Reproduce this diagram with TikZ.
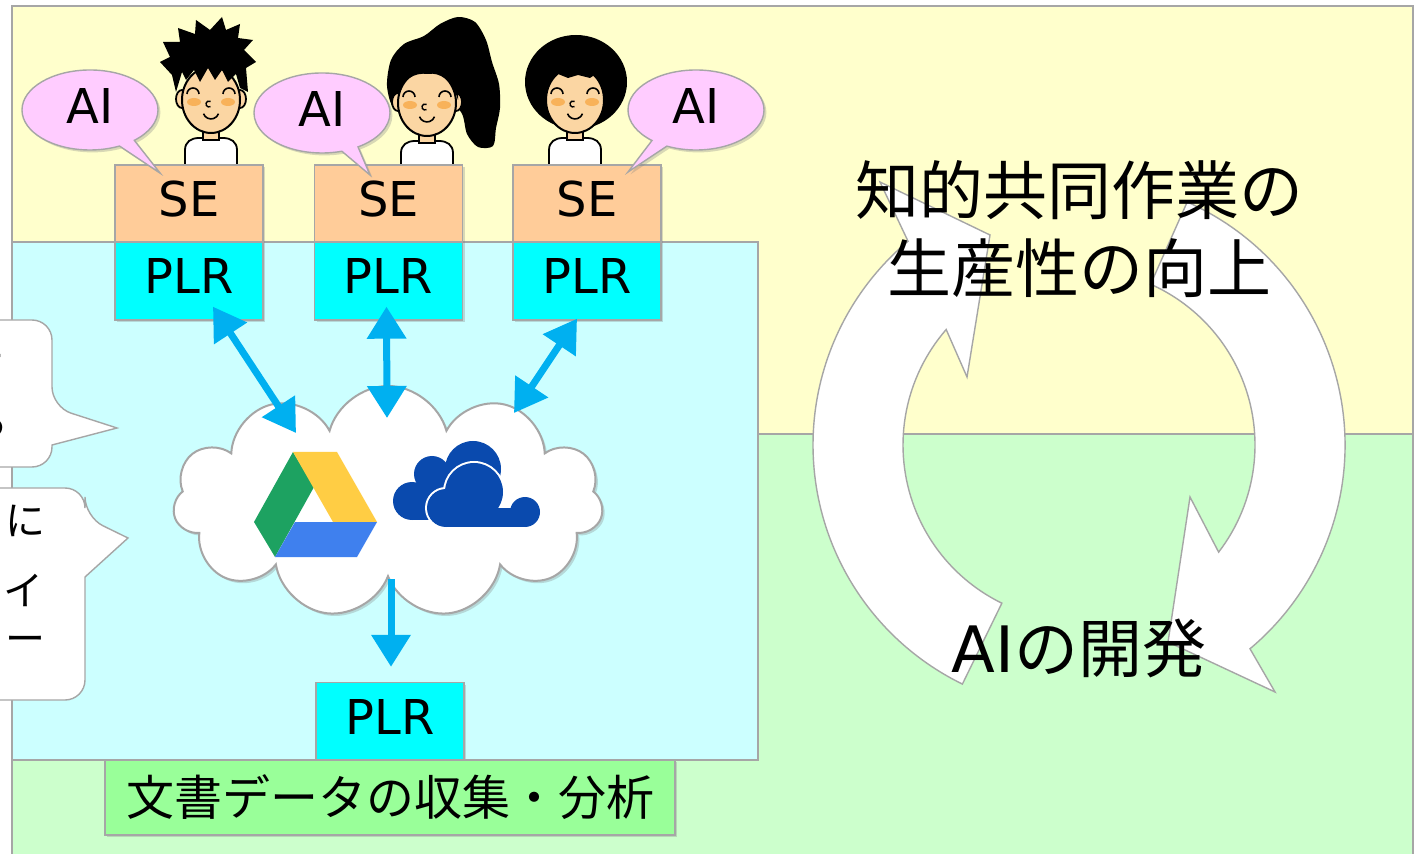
\documentclass[tikz,border=0pt]{standalone}
\usepackage{fontspec}
\setmainfont{DejaVu Sans}
\newfontfamily\jp{Noto Sans CJK JP}
\usetikzlibrary{arrows.meta,calc,shapes.symbols,shapes.callouts,shadows}

\definecolor{edgegray}{HTML}{A6A6A6}
\definecolor{bgyellow}{HTML}{FFFFCC}
\definecolor{bggreen}{HTML}{CCFFCC}
\definecolor{bgcyan}{HTML}{CCFFFF}
\definecolor{seorange}{HTML}{FFCC99}
\definecolor{plrcyan}{HTML}{00FFFF}
\definecolor{taskgreen}{HTML}{99FF99}
\definecolor{bubblepink}{HTML}{FFCCFF}
\definecolor{arrowblue}{HTML}{00B0F0}
\definecolor{skin}{HTML}{FBD6A3}
\definecolor{blush}{HTML}{F8B25A}
\definecolor{gdgreen}{HTML}{1DA261}
\definecolor{gdyellow}{HTML}{FFCD44}
\definecolor{gdblue}{HTML}{3F80EE}
\definecolor{odblue}{HTML}{0A4AAE}

\tikzset{
  softshadow/.style={drop shadow={shadow xshift=1.2pt,shadow yshift=-1.2pt,opacity=0.3}},
  labelbox/.style={draw=edgegray, line width=0.7pt, inner sep=0pt, text depth=5pt,
    font=\fontsize{24pt}{28pt}\selectfont, softshadow},
  sebox/.style={labelbox, fill=seorange, minimum width=74pt, minimum height=38.5pt},
  plrbox/.style={labelbox, fill=plrcyan, minimum width=74pt, minimum height=39pt},
  taskbox/.style={draw=edgegray, line width=0.7pt, fill=taskgreen, minimum width=285pt,
    minimum height=37.5pt, font=\jp\fontsize{24pt}{28pt}\selectfont, softshadow},
  aibubble/.style={ellipse callout, draw=edgegray, line width=0.7pt, fill=bubblepink,
    inner sep=0pt, text depth=4pt, minimum width=68pt, minimum height=40pt,
    font=\fontsize{24pt}{28pt}\selectfont, softshadow},
  syncarrow/.style={draw=arrowblue, line width=3.5pt,
    {Triangle[width=19pt,length=16pt]}-{Triangle[width=19pt,length=16pt]}},
  pullarrow/.style={draw=arrowblue, line width=3.5pt, -{Triangle[width=19pt,length=16pt]}},
  cyclearrow/.style={fill=white, draw=edgegray, line width=0.7pt},
  callbox/.style={fill=white, draw=edgegray, line width=0.7pt},
  hinttext/.style={anchor=east, inner sep=0pt, font=\jp\fontsize{20pt}{24pt}\selectfont},
  % face, neck and shirt around the face centre
  kao/.pic={
    \filldraw[fill=white, line width=0.9pt] (-26,72) -- (-26,50) .. controls (-26,42) and (-20,38) .. (-12,38)
      -- (12,38) .. controls (20,38) and (26,42) .. (26,50) -- (26,72);
    \filldraw[fill=skin, line width=0.9pt] (-8,26) rectangle (8,40);
    \filldraw[fill=skin, line width=1pt] (0,0) ellipse [x radius=29, y radius=33];
    \fill[blush] (-17,2) ellipse [x radius=7, y radius=4] (17,2) ellipse [x radius=7, y radius=4];
    \draw[line width=0.8pt] (-24,-6) arc[start angle=180, end angle=360, radius=6]
      (12,-6) arc[start angle=180, end angle=360, radius=6];
    \draw[line width=0.7pt] (-0.5,6.6) arc[start angle=60, end angle=300, radius=3];
    \draw[line width=0.8pt] (-7.5,13.7) arc[start angle=160, end angle=20, radius=8];
  },
  mimi/.pic={
    \filldraw[fill=skin, line width=0.9pt] (-29,-1) ellipse [x radius=6, y radius=9]
      (29,-1) ellipse [x radius=6, y radius=9];
  }
}

\begin{document}
\begin{tikzpicture}[x=0.5pt,y=0.5pt,yscale=-1]
\useasboundingbox (0,0) rectangle (1416,854);

% background areas
\filldraw[fill=bgyellow, draw=edgegray, line width=0.7pt] (12,6) rectangle (1413,434);
\filldraw[fill=bggreen, draw=edgegray, line width=0.7pt] (12,434) rectangle (1413,860);
\filldraw[fill=bgcyan, draw=edgegray, line width=0.7pt] (12,242) rectangle (758,760);

% people
\pic[transform shape] at (211,100) {mimi};
\pic[transform shape] at (211,100) {kao};
\fill (176,92) -- (172,75) -- (160,62) -- (170,57) -- (163,42) -- (180,42) -- (178,28) -- (195,34)
  -- (196,20) -- (210,30) -- (222,17) -- (226,30) -- (240,24) -- (238,38) -- (253,40) -- (244,50)
  -- (256,62) -- (246,68) -- (248,92) -- (240,88) -- (236,74) -- (228,82) -- (222,70) -- (215,80)
  -- (208,68) -- (200,82) -- (194,70) -- (186,80) -- (182,72) -- cycle;

\fill plot[smooth cycle] coordinates {(394,108) (387,86) (391,60) (404,44) (424,36) (440,24) (458,17)
  (475,22) (486,40) (492,62) (499,84) (500,108) (496,128) (493,146) (478,147) (467,134) (461,112)
  (440,96) (412,100)};
\pic[transform shape] at (427,103) {mimi};
\pic[transform shape] at (427,103) {kao};
\fill (398,96) .. controls (398,70) and (415,62) .. (428,68) .. controls (445,62) and (460,72) .. (458,100)
  .. controls (452,80) and (440,72) .. (428,74) .. controls (414,72) and (402,80) .. (398,96) -- cycle;

\fill (576,82) ellipse [x radius=51, y radius=47];
\pic[transform shape] at (575,100) {kao};
\fill (538,98) -- (542,77) -- (553,79) -- (558,74) -- (568,78) -- (578,75) -- (590,78) -- (596,74)
  -- (608,77) -- (612,98) -- (616,60) -- (576,48) -- (536,60) -- cycle;

% cycle of the two big arrows
\coordinate (ctr) at (1079,445);
\draw[cyclearrow] ($(ctr)+(116:266)$) arc[start angle=116, end angle=230, radius=266]
  -- (880,182) -- (990,235) -- (967,377) -- ($(ctr)+(221:176)$)
  arc[start angle=221, end angle=116, radius=176] -- cycle;
\draw[cyclearrow] ($(ctr)+(294:266)$) arc[start angle=294, end angle=410, radius=266]
  -- (1275,692) -- (1168,642) -- (1190,497) -- ($(ctr)+(37.5:176)$)
  arc[start angle=37.5, end angle=-66, radius=176] -- cycle;
\node[align=center, font=\jp\fontsize{32pt}{39pt}\selectfont] (goal) at (1079,229)
  {知的共同作業の\\生産性の向上};
\node[font=\fontsize{32pt}{39pt}\selectfont] (dev) at (1079,648) {AI{\jp の開発}};

% side notes
\draw[callbox] (-40,320) [rounded corners=10pt] -- (52,320) -- (52,407) [sharp corners]
  -- (117,428) -- (52,445) [rounded corners=10pt] -- (52,467) -- (-40,467);
\node[hinttext] (hint1a) at (6,370) {て};
\node[hinttext] (hint1b) at (9,422) {る};
\draw[callbox] (-40,488) [rounded corners=10pt] -- (85,488) -- (85,517) [sharp corners]
  -- (128,538) -- (85,577) [rounded corners=10pt] -- (85,700) -- (-40,700);
\node[hinttext] (hint2a) at (46,521) {に};
\node[hinttext] (hint2b) at (44,590) {イ};
\node[hinttext] (hint2c) at (46,645) {ー};

% SE and PLR
\node[sebox] (se1) at (189,203.5) {SE};
\node[sebox] (se2) at (388.5,203.5) {SE};
\node[sebox] (se3) at (587,203.5) {SE};
\node[plrbox] (plr1) at (189,281) {PLR};
\node[plrbox] (plr2) at (388.5,281) {PLR};
\node[plrbox] (plr3) at (587,281) {PLR};
\node[plrbox] (plr4) at (390,721.5) {PLR};
\node[taskbox] (task) at (390,797.5) {文書データの収集・分析};

\node[aibubble, callout absolute pointer={(160,173)}] (ai1) at (90,110) {AI};
\node[aibubble, callout absolute pointer={(370,175)}] (ai2) at (322,113) {AI};
\node[aibubble, callout absolute pointer={(628,172)}] (ai3) at (696,110) {AI};

% storage cloud
\node[cloud, cloud puffs=11, cloud ignores aspect, draw=edgegray, line width=1pt, fill=white,
  minimum width=215pt, minimum height=116pt, softshadow] (kumo) at (388,502) {};

% drive logo
\fill[gdgreen] (293,452) -- (254,522) -- (275,557) -- (314,487) -- cycle;
\fill[gdyellow] (293,452) -- (337,452) -- (377,522) -- (333,522) -- cycle;
\fill[gdblue] (295,522) -- (377,522) -- (357,557) -- (275,557) -- cycle;

% onedrive logo
\fill[odblue] (473,469) circle[radius=28];
\fill[odblue] (432,474) circle[radius=18];
\fill[odblue] (412,501) circle[radius=19];
\fill[odblue] (412,490) rectangle (480,520);
\draw[white, line width=2pt] (446,508) circle[radius=19] (474,492) circle[radius=29]
  (525,512) circle[radius=15] (446,508) rectangle (525,527);
\fill[odblue] (446,508) circle[radius=19];
\fill[odblue] (474,492) circle[radius=29];
\fill[odblue] (525,512) circle[radius=15];
\fill[odblue] (446,508) rectangle (525,527);

% links
\coordinate (p1) at (296,433);
\coordinate (p2) at (387,418);
\coordinate (p3) at (514,413);
\coordinate (drop) at (391,579);
\draw[syncarrow] ($(plr1.south)+(24,-14)$) -- (p1);
\draw[syncarrow] ($(plr2.south)+(-2,-14)$) -- (p2);
\draw[syncarrow] ($(plr3.south)+(-10,-2)$) -- (p3);
\draw[pullarrow] (drop) -- ($(plr4.north)+(1,-15)$);
\end{tikzpicture}
\end{document}
